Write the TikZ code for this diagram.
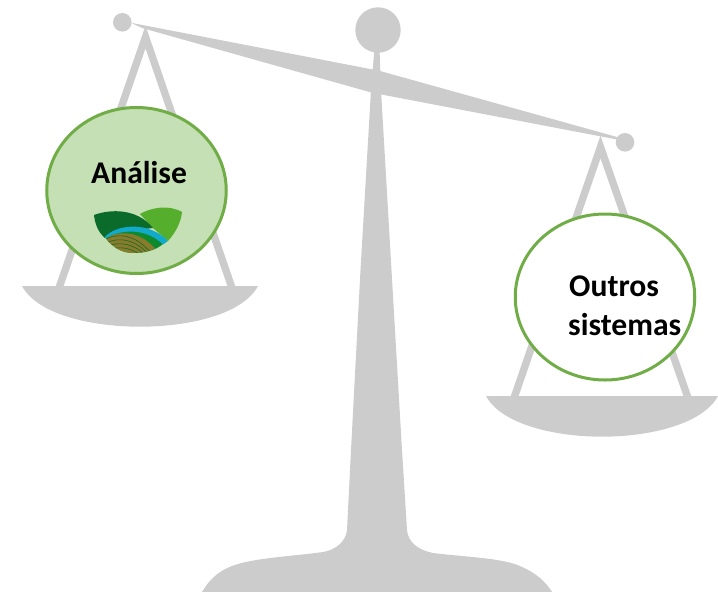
\documentclass[tikz,border=0pt]{standalone}
\usetikzlibrary{shapes.geometric}
\usepackage{fontspec}
\setmainfont{Carlito}
\definecolor{scalegray}{HTML}{CCCCCC}
\definecolor{ringgreen}{HTML}{70AD47}
\definecolor{fillgreen}{HTML}{C5E0B4}
\definecolor{leafdark}{HTML}{0B6B2B}
\definecolor{leaflight}{HTML}{55AE2C}
\definecolor{bandblue}{HTML}{12AACB}
\definecolor{fieldgreen}{HTML}{0E8A2E}
\definecolor{fieldbrown}{HTML}{8A7A2C}
\tikzset{
  partgray/.style={fill=scalegray,draw=none},
  hanger/.style={draw=scalegray,line width=7.4pt,line join=miter},
  pan/.style={ellipse,draw=ringgreen,line width=3pt,minimum width=179.5pt,minimum height=166pt,inner sep=0pt},
  labeltext/.style={font=\bfseries\fontsize{31.6}{36}\selectfont,inner sep=0pt,anchor=base west},
}
\begin{document}
\begin{tikzpicture}[x=1pt,y=-1pt]
\useasboundingbox (0,0) rectangle (718,592);
% post and foot
\fill[partgray] (374.5,48) -- (379.5,48) -- (381,90) -- (391.5,270) -- (402,450) -- (407,530)
  .. controls (408,542) and (418,550) .. (433,553)
  .. controls (465,557) and (505,558) .. (522,567)
  .. controls (536,573) and (546,582) .. (552,592)
  -- (202,592)
  .. controls (208,582) and (216,572) .. (232,566)
  .. controls (252,558) and (295,556) .. (323,552)
  .. controls (336,550) and (346,541) .. (347,530)
  -- (351,450) -- (360.5,270) -- (371,90) -- cycle;
\fill[partgray] (378,30) circle[radius=22.7];
% beam
\fill[partgray] (131,22.8) -- (379,70.7) -- (617,137) -- (617,139.5) -- (372,92.7) -- (142,28) -- cycle;
\fill[partgray] (122.3,22.3) circle[radius=9.3];
\fill[partgray] (625,142.3) circle[radius=9.3];
% hangers
\draw[hanger] (59,288) -- (145.5,37) -- (232,288);
\draw[hanger] (514,398) -- (600.5,147) -- (688,398);
% scale pans
\fill[partgray] (22,286) -- (258,286) .. controls (243,314) and (190,326.7) .. (140,326.7)
  .. controls (90,326.7) and (37,314) .. (22,286) -- cycle;
\fill[partgray] (486,396) -- (718,396) .. controls (703,424) and (650,436.7) .. (602,436.7)
  .. controls (554,436.7) and (501,424) .. (486,396) -- cycle;
% circles
\node[pan,fill=fillgreen] (left) at (136.5,190.5) {};
\node[pan,fill=white] (right) at (605,297) {};
% logo
\fill[leaflight] (140,214) .. controls (150,208) and (168,204) .. (182,212)
  .. controls (181,222) and (176,232) .. (168,241) -- (153,228) -- cycle;
\fill[leafdark] (94,215) .. controls (110,209) and (137,208) .. (153,228)
  -- (120,232) -- (105,238) .. controls (98,232) and (95,224) .. (94,215) -- cycle;
\fill[fieldgreen] (105,237) .. controls (118,226) and (146,224) .. (163,244)
  .. controls (155,251) and (143,253) .. (133,253)
  .. controls (122,253) and (112,247) .. (105,237) -- cycle;
\fill[bandblue] (105,237) .. controls (115,225) and (148,220) .. (168,241) -- (163,244.5)
  .. controls (148,229) and (122,228) .. (106,238.5) -- cycle;
\begin{scope}
  \clip (106,238.5) .. controls (118,230) and (140,231) .. (155,248.5)
    .. controls (148,252) and (140,253) .. (133,253)
    .. controls (122,253) and (112,247) .. (106,238.5) -- cycle;
  \fill[fieldbrown] (100,225) rectangle (160,256);
  \foreach \d in {0,4,8,12}{
    \draw[fieldgreen!80!black,line width=.6pt] (104,{240+\d}) .. controls (118,{232+\d}) and (136,{235+\d}) .. (150,{252+\d});
  }
\end{scope}
% texts
\node[labeltext] (analise) at (91,183.5) {Análise};
\node[labeltext] (outros) at (569,296.5) {Outros};
\node[labeltext] (sistemas) at (568,335) {sistemas};
\end{tikzpicture}
\end{document}
